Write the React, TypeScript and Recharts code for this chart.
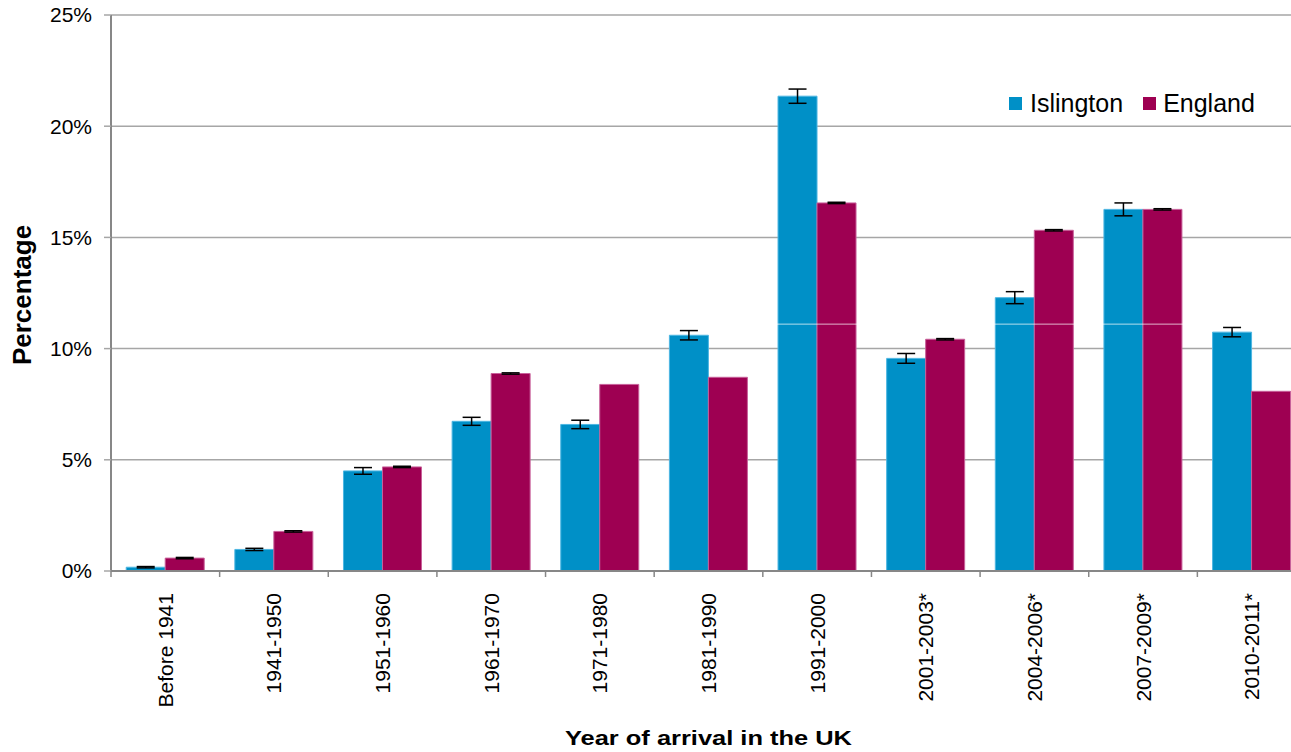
import React from 'react';
import {
  BarChart,
  Bar,
  XAxis,
  YAxis,
  CartesianGrid,
  ErrorBar,
  Legend,
  ReferenceLine,
} from 'recharts';

// ---------- Data ----------
const categories = [
  'Before 1941',
  '1941-1950',
  '1951-1960',
  '1961-1970',
  '1971-1980',
  '1981-1990',
  '1991-2000',
  '2001-2003*',
  '2004-2006*',
  '2007-2009*',
  '2010-2011*',
];
const islington = [0.17, 0.97, 4.5, 6.73, 6.59, 10.6, 21.35, 9.56, 12.29, 16.26, 10.74];
const islingtonErr = [0.03, 0.05, 0.15, 0.18, 0.19, 0.21, 0.32, 0.22, 0.27, 0.29, 0.21];
const england = [0.58, 1.78, 4.68, 8.88, 8.39, 8.71, 16.55, 10.42, 15.32, 16.26, 8.08];
const englandErr = [0.03, 0.03, 0.03, 0.03, 0.0, 0.0, 0.03, 0.03, 0.03, 0.03, 0.0];
const yTicks = [0, 5, 10, 15, 20, 25];
const seriesNames = ['Islington', 'England'];
const artifactLine = 11.1;

const data = categories.map((c, i) => ({
  category: c,
  islington: islington[i],
  islingtonErr: islingtonErr[i],
  england: england[i],
  englandErr: englandErr[i],
}));

// ---------- Layout ----------
const CHART_W = 1320;
const CHART_H = 752;
const Y_AXIS_W = 111;
const MARGIN_RIGHT = 14;
const MARGIN_TOP = 15;
const X_AXIS_H = 181;
const PLOT_W = CHART_W - Y_AXIS_W - MARGIN_RIGHT;
const BAND = PLOT_W / categories.length;

const BLUE = '#0090C7';
const PURPLE = '#9E0052';
const AXIS = '#878787';
const GRID = '#A6A6A6';
const FONT = '"Liberation Sans", Arial, Helvetica, sans-serif';

const XTick = (props: any) => {
  const { x, y, payload } = props;
  const bx = x - BAND / 2;
  return (
    <g>
      <line x1={bx} x2={bx} y1={y} y2={y + 6} stroke={AXIS} strokeWidth={1.5} />
      <text
        x={x}
        y={y + 22}
        transform={`rotate(-90, ${x}, ${y + 22})`}
        textAnchor="end"
        dominantBaseline="central"
        fontSize={21}
        fontFamily={FONT}
        fill="#000"
      >
        {payload.value}
      </text>
    </g>
  );
};

const XTitle = () => (
  <text
    x={Y_AXIS_W + PLOT_W / 2}
    y={745}
    textAnchor="middle"
    fontSize={20}
    fontWeight="bold"
    fontFamily={FONT}
    fill="#000"
    textLength={287}
    lengthAdjust="spacingAndGlyphs"
  >
    Year of arrival in the UK
  </text>
);

const YTitle = () => (
  <text
    x={0}
    y={0}
    transform={`translate(31, 295) rotate(-90)`}
    textAnchor="middle"
    fontSize={26}
    fontWeight="bold"
    fontFamily={FONT}
    fill="#000"
  >
    Percentage
  </text>
);

const LegendContent = () => {
  const colors = [BLUE, PURPLE];
  return (
    <div
      style={{
        display: 'flex',
        alignItems: 'center',
        fontFamily: FONT,
        fontSize: 25,
        color: '#000',
        lineHeight: '28px',
      }}
    >
      {seriesNames.map((n, i) => (
        <div
          key={n}
          style={{ display: 'flex', alignItems: 'center', marginRight: i === 0 ? 20 : 0 }}
        >
          <div
            style={{
              width: 13,
              height: 13,
              background: colors[i],
              marginRight: i === 0 ? 8 : 7,
            }}
          />
          <span>{n}</span>
        </div>
      ))}
    </div>
  );
};

export default function App() {
  return (
    <div
      style={{
        position: 'fixed',
        left: 0,
        top: 0,
        width: 1291,
        height: 752,
        overflow: 'hidden',
        background: '#fff',
      }}
    >
      <BarChart
        width={CHART_W}
        height={CHART_H}
        data={data}
        margin={{ top: MARGIN_TOP, right: MARGIN_RIGHT, bottom: 0, left: 0 }}
        barCategoryGap="14%"
        barGap={0}
      >
        <CartesianGrid vertical={false} stroke={GRID} strokeWidth={1.5} />
        <XAxis
          dataKey="category"
          height={X_AXIS_H}
          interval={0}
          tickLine={false}
          tickSize={0}
          tickMargin={0}
          axisLine={{ stroke: AXIS, strokeWidth: 2 }}
          tick={<XTick />}
          label={<XTitle />}
        />
        <YAxis
          width={Y_AXIS_W}
          domain={[0, 25]}
          ticks={yTicks}
          interval={0}
          tickFormatter={(v: number) => `${v}%`}
          tickSize={7}
          tickMargin={12}
          tickLine={{ stroke: GRID, strokeWidth: 1.5 }}
          axisLine={{ stroke: AXIS, strokeWidth: 2 }}
          tick={{ fontSize: 21, fill: '#000', fontFamily: FONT }}
          label={<YTitle />}
        />
        <Legend
          layout="horizontal"
          verticalAlign="middle"
          align="center"
          content={<LegendContent />}
          wrapperStyle={{ position: 'absolute', left: 1009, top: 89, width: 300 }}
        />
        <Bar
          dataKey="islington"
          name={seriesNames[0]}
          fill={BLUE}
          stroke="#4DB6E2"
          strokeWidth={1}
          isAnimationActive={false}
        >
          <ErrorBar dataKey="islingtonErr" width={9} strokeWidth={1.5} stroke="#000" />
        </Bar>
        <Bar
          dataKey="england"
          name={seriesNames[1]}
          fill={PURPLE}
          stroke="#C8609A"
          strokeWidth={1}
          isAnimationActive={false}
        >
          <ErrorBar dataKey="englandErr" width={9} strokeWidth={1.5} stroke="#000" />
        </Bar>
        <ReferenceLine y={artifactLine} stroke="#ffffff" strokeOpacity={0.7} strokeWidth={1} />
      </BarChart>
    </div>
  );
}
